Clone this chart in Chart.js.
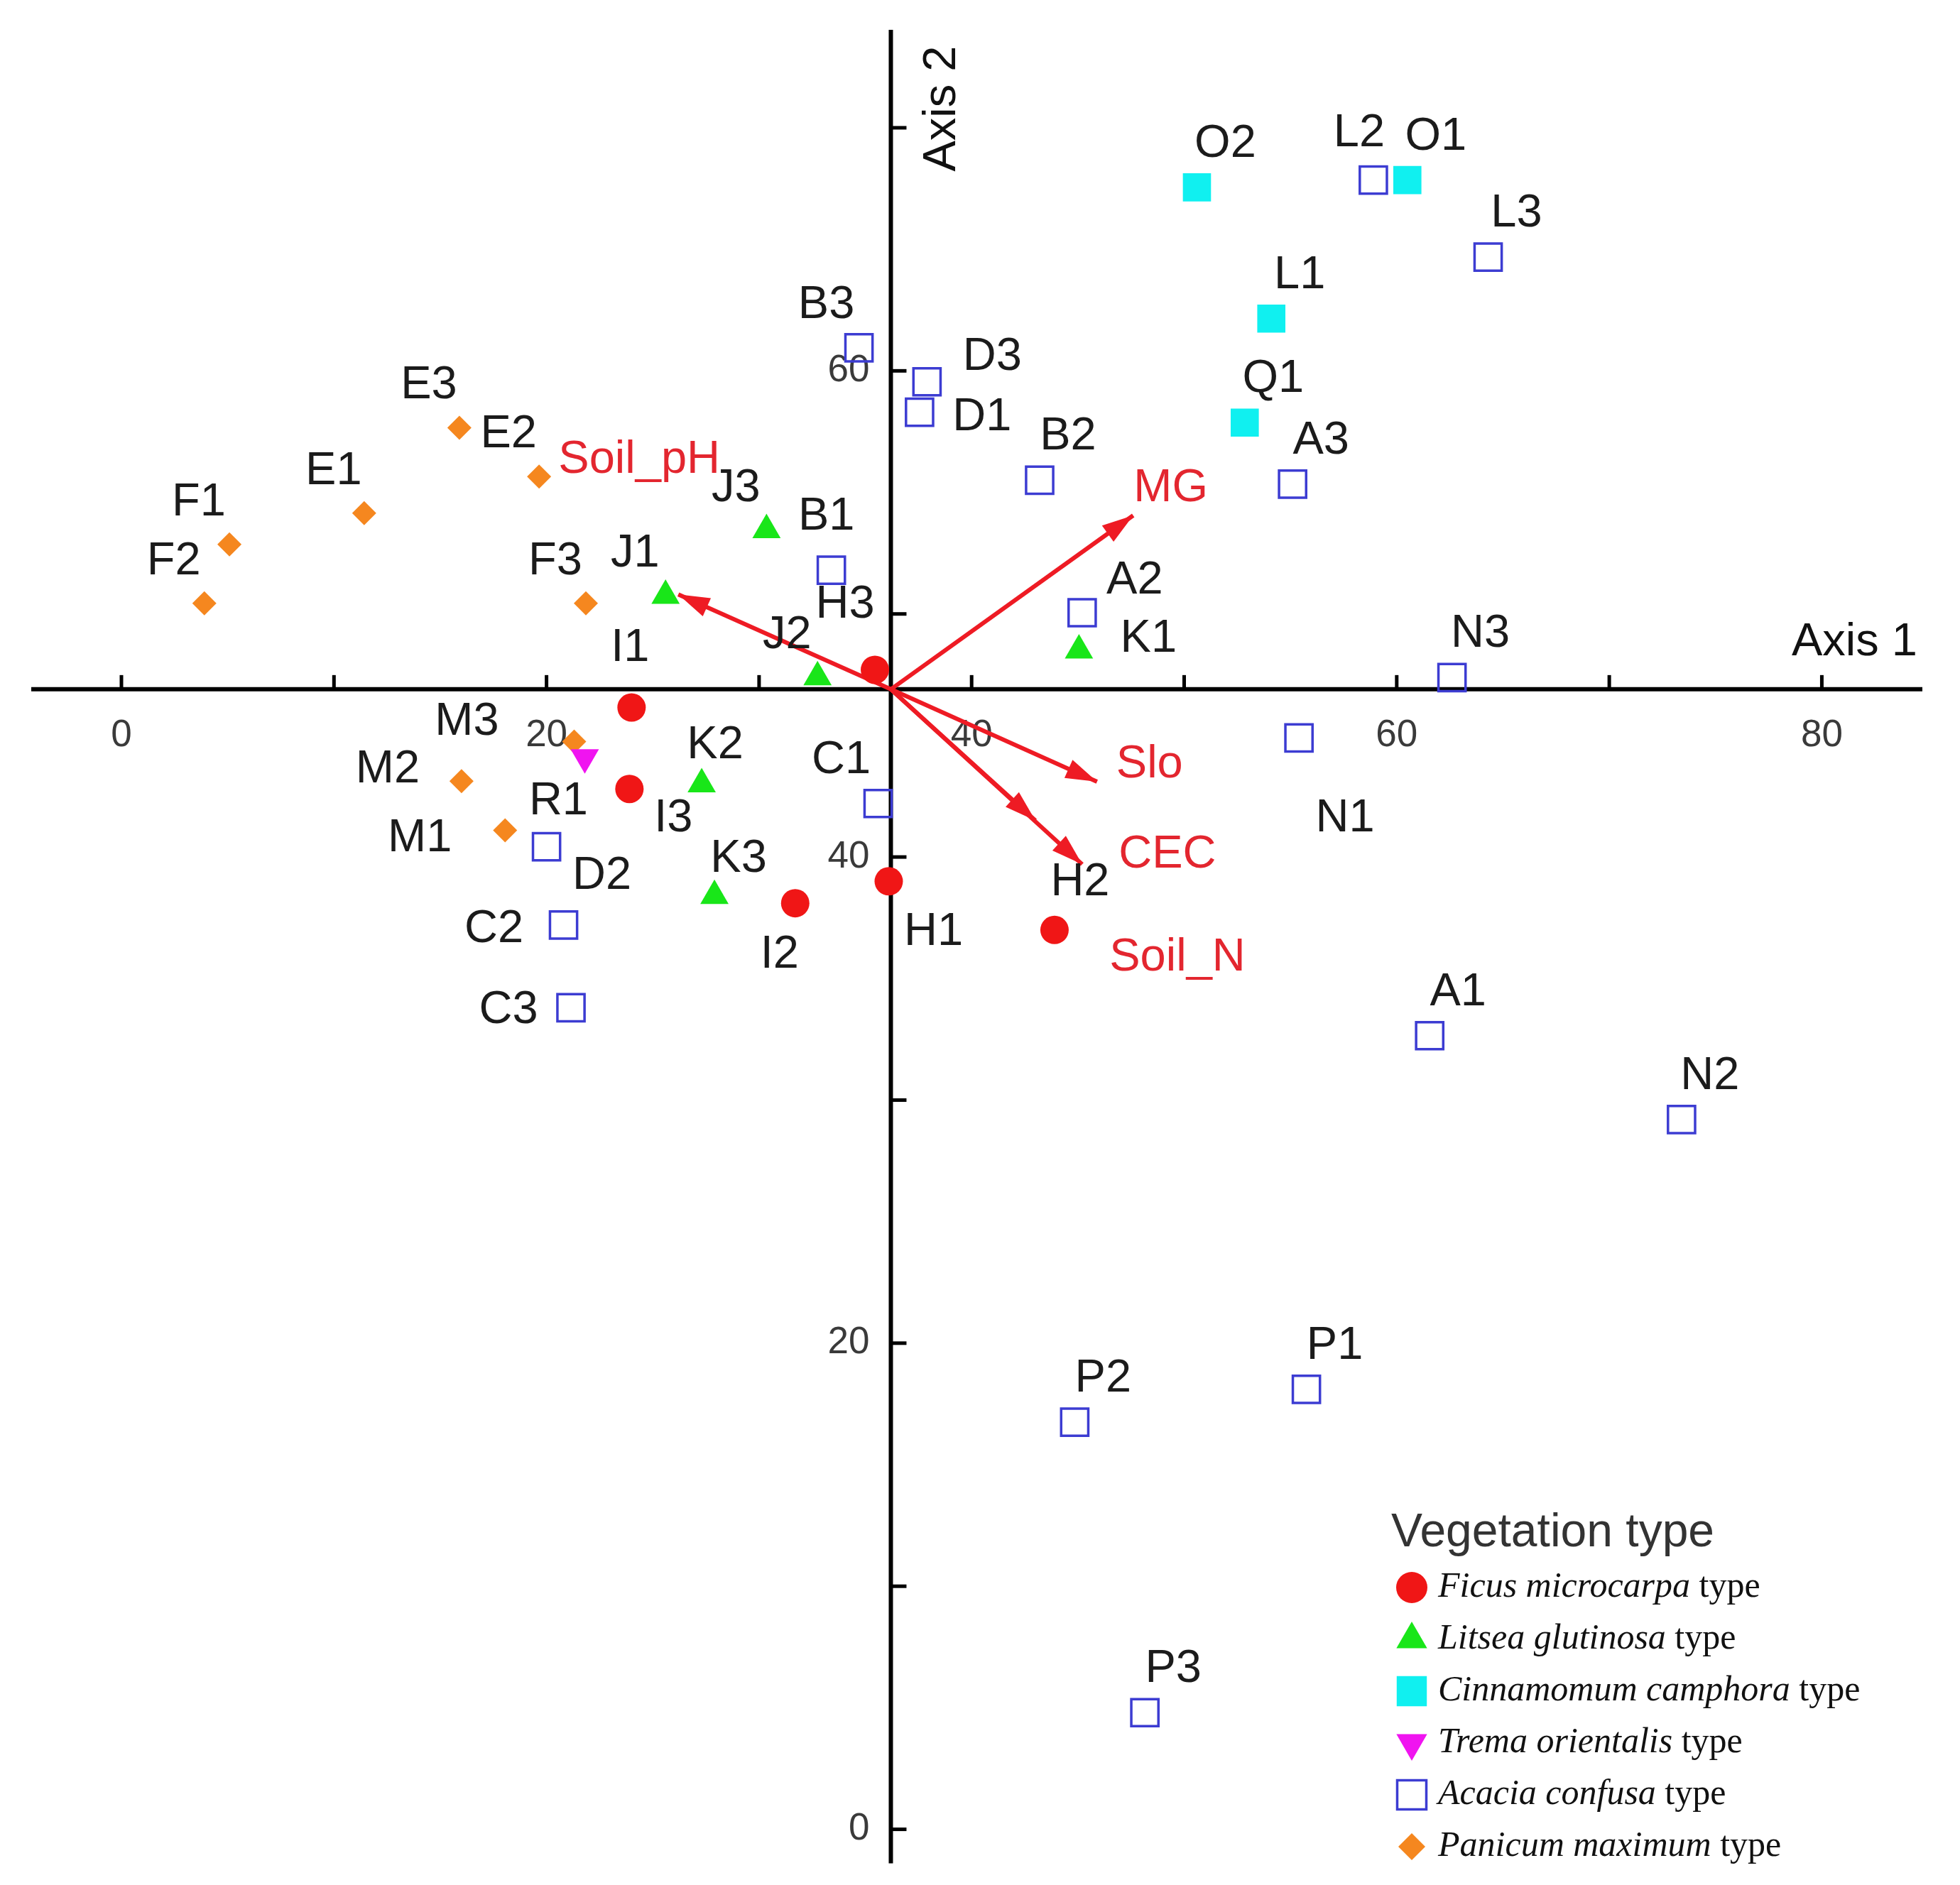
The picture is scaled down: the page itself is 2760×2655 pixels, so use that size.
<!DOCTYPE html>
<html lang="en">
<head>
    <meta charset="UTF-8">
    <title>CCA ordination - vegetation types</title>
    <style>
        body {
            margin: 0;
            padding: 0;
            background-color: #fff;
        }

        #ordination {
            display: block;
        }
    </style>
</head>
<body>
    <canvas id="ordination" width="2760" height="2655"></canvas>

    <script src="https://cdn.jsdelivr.net/npm/chart.js"></script>
    <script>
        // Sample scores (Axis 1, Axis 2), one set per vegetation type
        const ficusNames = ['H1', 'H2', 'H3', 'I1', 'I2', 'I3'];
        const ficusX = [36.1, 43.9, 35.45, 24.0, 31.7, 23.9];
        const ficusY = [39.0, 37.0, 47.7, 46.15, 38.1, 42.8];

        const litseaNames = ['J1', 'J2', 'J3', 'K1', 'K2', 'K3'];
        const litseaX = [25.6, 32.75, 30.35, 45.05, 27.3, 27.9];
        const litseaY = [50.75, 47.4, 53.45, 48.5, 43.0, 38.4];

        const cinnamomumNames = ['O1', 'O2', 'L1', 'Q1'];
        const cinnamomumX = [60.5, 50.6, 54.1, 52.85];
        const cinnamomumY = [67.85, 67.55, 62.15, 57.87];

        const tremaNames = ['R1'];
        const tremaX = [21.8];
        const tremaY = [44.1];

        const acaciaNames = ['A1', 'A2', 'A3', 'B1', 'B2', 'B3', 'C1', 'C2', 'C3', 'D1', 'D2', 'D3',
                             'L2', 'L3', 'N1', 'N2', 'N3', 'P1', 'P2', 'P3'];
        const acaciaX = [61.55, 45.2, 55.1, 33.4, 43.2, 34.7, 35.6, 20.8, 21.15, 37.55, 20.0, 37.9,
                         58.9, 64.3, 55.4, 73.4, 62.6, 55.75, 44.85, 48.15];
        const acaciaY = [32.65, 50.05, 55.34, 51.8, 55.5, 60.95, 42.2, 37.2, 33.8, 58.3, 40.42, 59.55,
                         67.85, 64.68, 44.9, 29.2, 47.38, 18.1, 16.75, 4.8];

        const panicumNames = ['E1', 'E2', 'E3', 'F1', 'F2', 'F3', 'M1', 'M2', 'M3'];
        const panicumX = [11.42, 19.65, 15.9, 5.08, 3.9, 21.85, 18.05, 16.0, 21.3];
        const panicumY = [54.15, 55.65, 57.66, 52.86, 50.44, 50.44, 41.1, 43.12, 44.75];

        // Environmental vectors (arrow tips), all drawn from the centroid
        const envNames = ['Soil_pH', 'MG', 'Slo', 'CEC', 'Soil_N'];
        const envX = [26.2, 47.6, 45.9, 45.2, 43.0];
        const envY = [50.8, 54.05, 43.1, 39.7, 41.5];
        const envOrigin = [36.2, 46.9];

        // Axes
        const axisCrossX = 36.2;
        const axisCrossY = 46.9;
        const xTicks = [0, 10, 20, 30, 40, 50, 60, 70, 80];
        const xTickLabels = [0, 20, 40, 60, 80];
        const yTicks = [0, 10, 20, 30, 40, 50, 60, 70];
        const yTickLabels = [0, 20, 40, 60];

        const legendTitle = 'Vegetation type';
        const legendSpecies = ['Ficus microcarpa', 'Litsea glutinosa', 'Cinnamomum camphora',
                               'Trema orientalis', 'Acacia confusa', 'Panicum maximum'];

        // ---- styles ----
        const sansFont = '"Liberation Sans", Arial, sans-serif';
        const serifFont = '"Liberation Serif", "Times New Roman", serif';
        const arrowRed = '#ee1b24';

        const groups = [
            { names: ficusNames, xs: ficusX, ys: ficusY, style: 'circle', radius: 20, rotation: 0, fill: '#f01616', stroke: '#f01616', lw: 0 },
            { names: litseaNames, xs: litseaX, ys: litseaY, style: 'triangle', radius: 23, rotation: 0, fill: '#19e619', stroke: '#19e619', lw: 0 },
            { names: cinnamomumNames, xs: cinnamomumX, ys: cinnamomumY, style: 'rect', radius: 28, rotation: 0, fill: '#10f0f0', stroke: '#10f0f0', lw: 0 },
            { names: tremaNames, xs: tremaX, ys: tremaY, style: 'triangle', radius: 23, rotation: 180, fill: '#f014f0', stroke: '#f014f0', lw: 0 },
            { names: acaciaNames, xs: acaciaX, ys: acaciaY, style: 'rect', radius: 27, rotation: 0, fill: 'rgba(0,0,0,0)', stroke: '#3c3cd2', lw: 3.5 },
            { names: panicumNames, xs: panicumX, ys: panicumY, style: 'rectRot', radius: 17, rotation: 0, fill: '#f5871f', stroke: '#f5871f', lw: 0 }
        ];

        // label placement relative to the marker (pixels)
        const rightUp = [40, -61];
        const leftUp = [-43, -59];
        const labelOffsets = {
            F1: leftUp, F2: leftUp, E1: leftUp, E2: leftUp, E3: leftUp, F3: leftUp,
            J1: leftUp, J2: leftUp, J3: leftUp, B3: [-46, -60], C1: [-52, -61],
            M1: [-120, 12], M2: [-104, -16], M3: [-151, -27], C2: [-98, 6], C3: [-88, 4],
            K1: [98, -16], K2: [19, -54], K3: [34, -52], H3: [-42, -91], I1: [-2, -83],
            I3: [62, 42], I2: [-22, 73], H1: [63, 72], H2: [36, -67], R1: [-37, 62],
            L2: [-20, -66], D3: [92, -35], D1: [88, 8], B1: [-7, -75], A2: [74, -45],
            N1: [65, 114], D2: [78, 41]
        };
        const envLabelOffsets = {
            Soil_pH: [-55, -189], MG: [53, -38], Slo: [74, -24], CEC: [120, -13], Soil_N: [200, 193]
        };

        function drawMarker(ctx, g, x, y, r) {
            ctx.beginPath();
            if (g.style === 'circle') {
                ctx.arc(x, y, r, 0, Math.PI * 2);
            } else if (g.style === 'triangle') {
                const s = g.rotation === 180 ? -1 : 1;
                ctx.moveTo(x, y - s * r);
                ctx.lineTo(x + r * 0.866, y + s * r * 0.5);
                ctx.lineTo(x - r * 0.866, y + s * r * 0.5);
                ctx.closePath();
            } else if (g.style === 'rect') {
                const h = r * Math.SQRT1_2;
                ctx.rect(x - h, y - h, 2 * h, 2 * h);
            } else {
                ctx.moveTo(x, y - r);
                ctx.lineTo(x + r, y);
                ctx.lineTo(x, y + r);
                ctx.lineTo(x - r, y);
                ctx.closePath();
            }
            ctx.fillStyle = g.fill;
            ctx.fill();
            if (g.lw > 0) {
                ctx.strokeStyle = g.stroke;
                ctx.lineWidth = g.lw;
                ctx.stroke();
            }
        }

        function line(ctx, x0, y0, x1, y1) {
            ctx.beginPath();
            ctx.moveTo(x0, y0);
            ctx.lineTo(x1, y1);
            ctx.stroke();
        }

        const ordinationPlugin = {
            id: 'ordination',
            beforeDatasetsDraw(chart) {
                const ctx = chart.ctx;
                const xs = chart.scales.x, ys = chart.scales.y;
                const { left, right, top, bottom } = chart.chartArea;
                const ax = xs.getPixelForValue(axisCrossX);
                const ay = ys.getPixelForValue(axisCrossY);

                ctx.save();
                ctx.strokeStyle = '#000';
                ctx.lineWidth = 6;
                line(ctx, left, ay, right, ay);
                line(ctx, ax, top, ax, bottom);

                ctx.lineWidth = 5;
                xTicks.forEach(v => {
                    const px = xs.getPixelForValue(v);
                    line(ctx, px, ay, px, ay - 20);
                });
                yTicks.forEach(v => {
                    const py = ys.getPixelForValue(v);
                    line(ctx, ax, py, ax + 22, py);
                });

                ctx.fillStyle = '#3a3a3a';
                ctx.font = '53px ' + sansFont;
                ctx.textAlign = 'center';
                ctx.textBaseline = 'middle';
                xTickLabels.forEach(v => {
                    ctx.fillText(String(v), xs.getPixelForValue(v), ay + 66);
                });
                ctx.textAlign = 'right';
                yTickLabels.forEach(v => {
                    ctx.fillText(String(v), ax - 30, ys.getPixelForValue(v));
                });

                ctx.fillStyle = '#111';
                ctx.font = '65px ' + sansFont;
                ctx.textAlign = 'right';
                ctx.textBaseline = 'alphabetic';
                ctx.fillText('Axis 1', right - 7, ay - 48);

                ctx.translate(ax + 73, top + 111);
                ctx.rotate(-Math.PI / 2);
                ctx.textAlign = 'center';
                ctx.textBaseline = 'middle';
                ctx.fillText('Axis 2', 0, 0);
                ctx.restore();
            },
            afterDatasetsDraw(chart) {
                const ctx = chart.ctx;
                const xs = chart.scales.x, ys = chart.scales.y;
                ctx.save();

                // arrow heads for the environmental vectors
                const ox = xs.getPixelForValue(envOrigin[0]);
                const oy = ys.getPixelForValue(envOrigin[1]);
                ctx.fillStyle = arrowRed;
                envNames.forEach((n, i) => {
                    const tx = xs.getPixelForValue(envX[i]);
                    const ty = ys.getPixelForValue(envY[i]);
                    const a = Math.atan2(ty - oy, tx - ox);
                    const len = 44, hw = 14;
                    ctx.beginPath();
                    ctx.moveTo(tx, ty);
                    ctx.lineTo(tx - len * Math.cos(a) + hw * Math.sin(a), ty - len * Math.sin(a) - hw * Math.cos(a));
                    ctx.lineTo(tx - len * Math.cos(a) - hw * Math.sin(a), ty - len * Math.sin(a) + hw * Math.cos(a));
                    ctx.closePath();
                    ctx.fill();
                });

                // sample labels
                ctx.font = '65px ' + sansFont;
                ctx.textAlign = 'center';
                ctx.textBaseline = 'middle';
                ctx.fillStyle = '#1b1b1b';
                groups.forEach((g, gi) => {
                    const meta = chart.getDatasetMeta(gi);
                    g.names.forEach((n, i) => {
                        const el = meta.data[i];
                        const off = labelOffsets[n] || rightUp;
                        ctx.fillText(n, el.x + off[0], el.y + off[1]);
                    });
                });

                // environmental variable labels
                ctx.fillStyle = '#e3262f';
                envNames.forEach((n, i) => {
                    const off = envLabelOffsets[n];
                    ctx.fillText(n, xs.getPixelForValue(envX[i]) + off[0], ys.getPixelForValue(envY[i]) + off[1]);
                });

                // legend
                const lx = 1959, ly = 2178;
                ctx.textAlign = 'left';
                ctx.textBaseline = 'alphabetic';
                ctx.fillStyle = '#333';
                ctx.font = '66px ' + sansFont;
                ctx.fillText(legendTitle, lx, ly);

                ctx.textBaseline = 'middle';
                legendSpecies.forEach((sp, i) => {
                    const y = 2236 + i * 73;
                    const g = groups[i];
                    drawMarker(ctx, g, lx + 29, y, g.radius + 2);
                    ctx.fillStyle = '#111';
                    ctx.font = 'italic 50px ' + serifFont;
                    ctx.fillText(sp, lx + 66, y);
                    const w = ctx.measureText(sp).width;
                    ctx.font = '50px ' + serifFont;
                    ctx.fillText(' type', lx + 66 + w, y);
                });
                ctx.restore();
            }
        };

        const datasets = groups.map(g => ({
            data: g.names.map((n, i) => ({ x: g.xs[i], y: g.ys[i] })),
            pointStyle: g.style,
            pointRadius: g.radius,
            pointRotation: g.rotation,
            pointBackgroundColor: g.fill,
            pointBorderColor: g.stroke,
            pointBorderWidth: g.lw,
            showLine: false
        }));

        envNames.forEach((n, i) => {
            datasets.push({
                data: [{ x: envOrigin[0], y: envOrigin[1] }, { x: envX[i], y: envY[i] }],
                showLine: true,
                borderColor: arrowRed,
                borderWidth: 6,
                pointRadius: 0,
                fill: false
            });
        });

        new Chart(document.getElementById('ordination').getContext('2d'), {
            type: 'scatter',
            data: { datasets: datasets },
            options: {
                responsive: false,
                animation: false,
                devicePixelRatio: 1,
                events: [],
                layout: { padding: { left: 44, right: 53, top: 42, bottom: 28 } },
                scales: {
                    x: { type: 'linear', min: -4.243, max: 84.73, display: false },
                    y: { type: 'linear', min: -1.40, max: 74.03, display: false }
                },
                plugins: {
                    legend: { display: false },
                    tooltip: { enabled: false }
                }
            },
            plugins: [ordinationPlugin]
        });
    </script>
</body>
</html>
